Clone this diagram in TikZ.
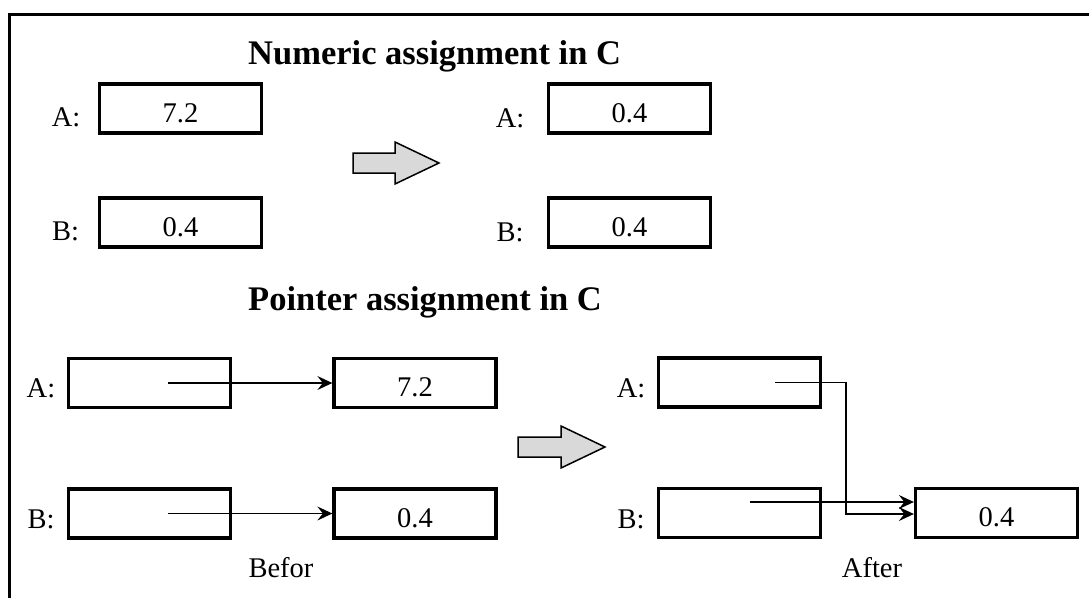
\documentclass[tikz,border=0pt]{standalone}
\usepackage{fontspec}
\setmainfont{Liberation Serif}
\usetikzlibrary{arrows.meta}

\begin{document}
\begin{tikzpicture}[
  x=1pt, y=-1pt,
  every node/.style={font=\fontsize{28.5}{34}\selectfont},
  cell/.style={rectangle, draw, line width=3.3pt, minimum width=162pt, minimum height=49pt, inner sep=0pt, text height=27pt, text depth=0pt},
  tag/.style={anchor=base, inner sep=0pt},
  head/.style={anchor=base west, inner sep=0pt, font=\fontsize{34.5}{40}\selectfont\bfseries},
  fat/.style={draw, line width=1.5pt, fill=gray!30, line join=miter},
  frame/.style={draw, line width=2.5pt},
  arrow/.style={-{Stealth[length=15pt, width=14pt, inset=5.5pt]}, line width=1.2pt}
]
\useasboundingbox (0,0) rectangle (1089,597);
\draw[frame] (9.5,610) |- (1100,14.5);

% numeric assignment
\node[head] (numtitle) at (248,64) {Numeric assignment in C};
\node[cell] (oldA) at (180.5,108.5) {7.2};
\node[cell] (oldB) at (180.5,222.5) {0.4};
\node[cell] (newA) at (629.5,108.5) {0.4};
\node[cell] (newB) at (629.5,222.5) {0.4};
\node[tag] (oldAtag) at (66,126.5) {A:};
\node[tag] (oldBtag) at (65.5,240) {B:};
\node[tag] (newAtag) at (510,127.5) {A:};
\node[tag] (newBtag) at (510,241.5) {B:};
\draw[fat, shift={(353,163)}] (0,-10) -- (42,-10) -- (42,-21) -- (86,0) -- (42,21) -- (42,10) -- (0,10) -- cycle;

% pointer assignment
\node[head] (ptrtitle) at (248,310) {Pointer assignment in C};
\node[cell] (ptrA) at (149.5,383) {};
\node[cell] (ptrB) at (149.5,513.5) {};
\node[cell] (valA) at (415,383) {7.2};
\node[cell] (valB) at (415,513.5) {0.4};
\node[tag] (ptrAtag) at (41,397) {A:};
\node[tag] (ptrBtag) at (41,528) {B:};
\node[tag] (befor) at (281,577) {Befor};
\draw[arrow] ([xshift=18.5pt]ptrA.center) -- (valA.west);
\draw[arrow] ([xshift=18.5pt]ptrB.center) -- (valB.west);

\node[cell] (aftA) at (739.5,382.5) {};
\node[cell] (aftB) at (739.5,513) {};
\node[cell] (aftval) at (996.5,513) {0.4};
\node[tag] (aftAtag) at (631,397) {A:};
\node[tag] (aftBtag) at (631,528) {B:};
\node[tag] (after) at (872,577) {After};
\coordinate (bend) at (846,0);
\draw[arrow] ([xshift=35.5pt]aftA.center) -| ([yshift=-1pt]bend |- aftval.west) -- ([yshift=-1pt]aftval.west);
\draw[arrow] ([xshift=10.5pt, yshift=11pt]aftB.center) -- ([yshift=11pt]aftval.west);
\draw[fat, shift={(518,447)}] (0,-10) -- (43,-10) -- (43,-21) -- (87,0) -- (43,21) -- (43,10) -- (0,10) -- cycle;
\end{tikzpicture}
\end{document}
